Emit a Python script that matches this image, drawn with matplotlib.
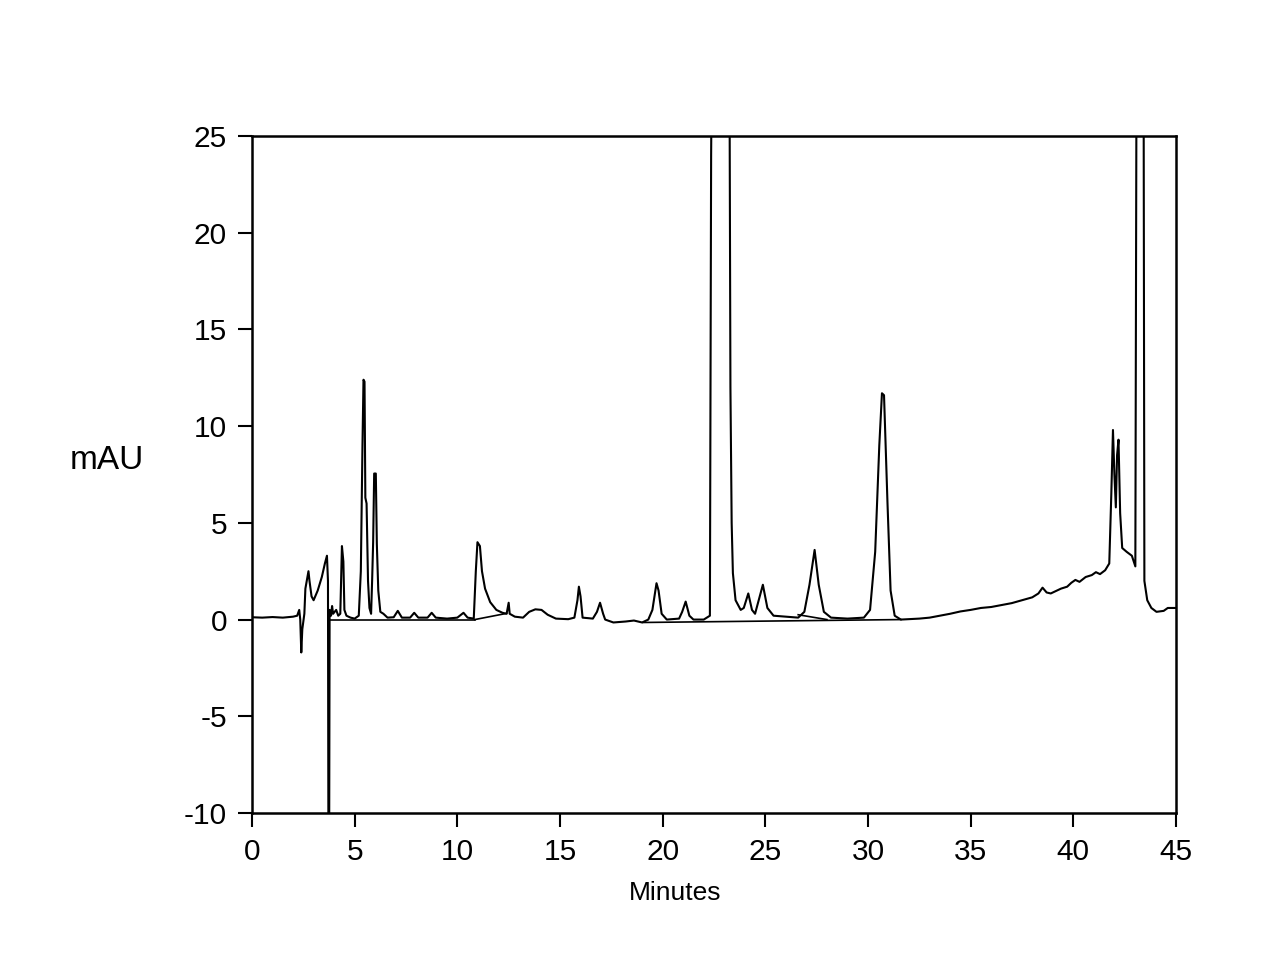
import matplotlib
matplotlib.use("Agg")
import matplotlib.pyplot as plt

plt.rcParams['font.family'] = ['Liberation Sans', 'DejaVu Sans']
plt.rcParams['axes.unicode_minus'] = False

# detector trace (minutes, mAU)
times = [0.0, 0.5, 1.0, 1.5, 2.0, 2.2, 2.3, 2.35, 2.4, 2.45, 2.55, 2.6, 2.75, 2.8, 2.9, 3.0,
         3.2, 3.4, 3.55, 3.65, 3.7, 3.72, 3.76, 3.78, 3.85, 3.9, 3.95, 4.1, 4.2, 4.3, 4.38,
         4.45, 4.5, 4.6, 4.8, 5.0, 5.2, 5.3, 5.38, 5.43, 5.48, 5.52, 5.58, 5.65, 5.72, 5.8,
         5.85, 5.9, 5.95, 6.03, 6.08, 6.15, 6.25, 6.4, 6.6, 6.9, 7.1, 7.3, 7.7, 7.9, 8.1,
         8.55, 8.75, 8.95, 9.5, 10.0, 10.3, 10.5, 10.8, 10.9, 10.98, 11.1, 11.2, 11.35, 11.6,
         11.9, 12.2, 12.4, 12.5, 12.55, 12.8, 13.2, 13.5, 13.8, 14.1, 14.4, 14.8, 15.4, 15.7,
         15.85, 15.92, 16.0, 16.1, 16.6, 16.8, 16.95, 17.1, 17.2, 17.6, 18.2, 18.6, 19.0,
         19.3, 19.5, 19.7, 19.8, 19.95, 20.2, 20.8, 20.95, 21.12, 21.3, 21.5, 22.0, 22.3,
         22.36, 22.4, 23.25, 23.3, 23.36, 23.42, 23.55, 23.8, 23.95, 24.17, 24.35, 24.5,
         24.88, 25.1, 25.4, 26.0, 26.6, 26.9, 27.15, 27.4, 27.6, 27.85, 28.2, 29.0, 29.8,
         30.1, 30.35, 30.55, 30.68, 30.78, 30.95, 31.1, 31.3, 31.6, 32.5, 33.0, 33.5, 34.0,
         34.5, 35.0, 35.5, 36.0, 36.5, 37.0, 37.5, 38.0, 38.3, 38.5, 38.7, 38.9, 39.2, 39.4,
         39.7, 39.9, 40.1, 40.3, 40.6, 40.9, 41.1, 41.3, 41.55, 41.75, 41.85, 41.93, 42.0,
         42.07, 42.13, 42.2, 42.28, 42.38, 42.6, 42.85, 43.02, 43.08, 43.42, 43.46, 43.6,
         43.8, 44.05, 44.4, 44.6, 45.0]
signal = [0.12, 0.1, 0.13, 0.1, 0.15, 0.2, 0.5, 0.0, -1.7, -0.5, 0.3, 1.6, 2.5, 2.0, 1.2, 1.0,
          1.5, 2.2, 2.9, 3.3, 2.0, -10.5, -10.5, 0.5, 0.2, 0.7, 0.3, 0.5, 0.2, 0.3, 3.8,
          3.0, 0.5, 0.2, 0.1, 0.05, 0.2, 2.5, 9.0, 12.4, 12.3, 6.3, 6.0, 2.0, 0.6, 0.3,
          2.0, 4.0, 7.55, 7.55, 3.9, 1.5, 0.4, 0.3, 0.1, 0.12, 0.45, 0.1, 0.1, 0.35, 0.1,
          0.1, 0.35, 0.1, 0.05, 0.1, 0.35, 0.1, 0.05, 2.5, 4.0, 3.8, 2.5, 1.6, 0.9,
          0.5, 0.35, 0.3, 0.87, 0.3, 0.15, 0.1, 0.4, 0.53, 0.5, 0.25, 0.05, 0.02, 0.1,
          1.0, 1.7, 1.2, 0.1, 0.05, 0.4, 0.87, 0.3, 0.0, -0.15, -0.1, -0.05, -0.15,
          0.0, 0.5, 1.88, 1.5, 0.3, 0.0, 0.05, 0.4, 0.93, 0.2, 0.0, 0.0, 0.2,
          24.0, 30.0, 30.0, 12.0, 5.0, 2.4, 1.0, 0.5, 0.6, 1.35, 0.5, 0.3,
          1.8, 0.6, 0.2, 0.15, 0.1, 0.4, 1.8, 3.6, 1.8, 0.4, 0.1, 0.05, 0.1,
          0.5, 3.5, 9.0, 11.7, 11.6, 6.0, 1.5, 0.2, 0.0, 0.05, 0.1, 0.2, 0.3,
          0.42, 0.5, 0.6, 0.65, 0.75, 0.85, 1.0, 1.15, 1.35, 1.65, 1.4, 1.35, 1.5, 1.6,
          1.7, 1.9, 2.05, 1.95, 2.2, 2.3, 2.45, 2.35, 2.55, 2.9, 6.5, 9.8, 7.5,
          5.8, 8.5, 9.3, 5.5, 3.7, 3.5, 3.3, 2.75, 30.0, 30.0, 2.0, 1.0,
          0.6, 0.4, 0.45, 0.6, 0.6]

# integration baselines drawn under the peaks
base_start = [(3.75, 0.0), (10.85, 0.0), (19.05, -0.15), (26.6, 0.25)]
base_end = [(10.85, 0.0), (12.4, 0.32), (31.6, 0.0), (28.0, 0.0)]

xticks = [0, 5, 10, 15, 20, 25, 30, 35, 40, 45]
yticks = [-10, -5, 0, 5, 10, 15, 20, 25]

fig = plt.figure(figsize=(12.66, 9.8), dpi=100)
ax = fig.add_axes([252 / 1266, 1 - 813 / 980, 924 / 1266, 677 / 980])

ax.plot(times, signal, color='black', linewidth=1.5)
for (x0, y0), (x1, y1) in zip(base_start, base_end):
    ax.plot([x0, x1], [y0, y1], color='black', linewidth=1.2)

ax.set_xlim(0, 45)
ax.set_ylim(-10, 25)
ax.set_xticks(xticks)
ax.set_yticks(yticks)
ax.tick_params(direction='out', length=10, width=1.5, labelsize=21.5, pad=8)
for s in ax.spines.values():
    s.set_linewidth(1.8)

ax.set_xlabel('Minutes', fontsize=19, va='center')
ax.xaxis.set_label_coords(0.458, -0.118)
ax.set_ylabel('mAU', fontsize=24, rotation=0, ha='center', va='center')
ax.yaxis.set_label_coords(-0.157, 0.52)

plt.savefig('out.png', dpi=100)
